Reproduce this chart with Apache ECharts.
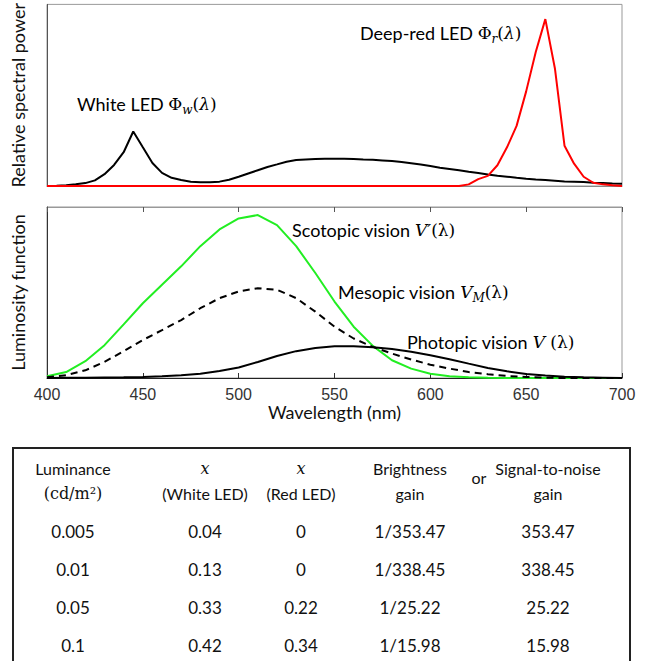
<!DOCTYPE html>
<html>
<head>
<meta charset="utf-8">
<script src="https://cdn.jsdelivr.net/npm/echarts@6/dist/echarts.min.js"></script>
<style>
html,body{margin:0;padding:0;background:#fff;}
#chart{width:646px;height:661px;}
</style>
</head>
<body>
<div id="chart"></div>
<script>
// ---- Data ----
const xTicks = [400, 450, 500, 550, 600, 650, 700];

const wlWhite = [400,405,410,415,420,425,430,435,440,445,450,455,460,465,470,475,480,485,490,495,500,505,510,515,520,525,530,535,540,545,550,555,560,565,570,575,580,585,590,595,600,605,610,615,620,625,630,635,640,645,650,655,660,665,670,675,680,685,690,695,700];
const whiteLed = [0,0.001,0.004,0.009,0.016,0.031,0.065,0.116,0.186,0.30,0.213,0.127,0.072,0.045,0.033,0.024,0.020,0.020,0.024,0.034,0.051,0.069,0.087,0.105,0.119,0.134,0.143,0.146,0.148,0.150,0.150,0.150,0.148,0.146,0.145,0.141,0.137,0.132,0.125,0.118,0.110,0.101,0.094,0.087,0.078,0.071,0.063,0.056,0.051,0.045,0.040,0.036,0.033,0.029,0.025,0.024,0.022,0.018,0.016,0.014,0.013];

const wlRed = [400,615,620,625,630,635,640,645,650,655,660,665,670,675,680,685,690,695,700];
const redLed = [0,0,0.009,0.038,0.056,0.114,0.213,0.331,0.521,0.738,0.919,0.647,0.222,0.123,0.051,0.018,0.009,0.004,0];

const wlVision = [400,410,420,430,440,450,460,470,480,490,500,510,520,530,540,550,560,570,580,590,600,610,620,630,640,650,660,670,680,690,700];
const scotopic = [0.010,0.035,0.098,0.192,0.314,0.437,0.545,0.653,0.771,0.869,0.933,0.953,0.894,0.771,0.614,0.447,0.300,0.188,0.104,0.055,0.025,0.010,0.004,0.001,0,0,0,0,0,0,0];
const mesopic = [0.004,0.016,0.045,0.094,0.157,0.222,0.280,0.339,0.408,0.467,0.506,0.525,0.516,0.467,0.388,0.300,0.231,0.182,0.143,0.108,0.078,0.055,0.035,0.022,0.012,0.006,0.002,0,0,0,0];
const photopic = [0,0.001,0.002,0.003,0.004,0.006,0.010,0.016,0.025,0.041,0.061,0.094,0.129,0.157,0.176,0.186,0.186,0.180,0.169,0.153,0.133,0.110,0.084,0.059,0.039,0.024,0.014,0.008,0.004,0.002,0];

// ---- Table data ----
const headerLine1 = ['Luminance', 'x', 'x', 'Brightness', 'Signal-to-noise'];
const headerLine2 = ['(cd/m²)', '(White LED)', '(Red LED)', 'gain', 'gain'];
const luminance = ['0.005', '0.01', '0.05', '0.1'];
const xWhiteLed = ['0.04', '0.13', '0.33', '0.42'];
const xRedLed = ['0', '0', '0.22', '0.34'];
const brightnessGain = ['1/353.47', '1/338.45', '1/25.22', '1/15.98'];
const snrGain = ['353.47', '338.45', '25.22', '15.98'];

function pairs(xs, ys){ return xs.map((x,i)=>[x, ys[i]]); }

const SANS = 'Lato';
const MATH = 'DejaVu Serif';

const chart = echarts.init(document.getElementById('chart'), null, {renderer:'svg'});

// ---- Rich label helpers ----
const richBase = {
  t: {fontFamily: SANS, fontSize: 18, color: '#111', lineHeight: 24, verticalAlign: 'middle'},
  m: {fontFamily: MATH, fontSize: 17, color: '#111', lineHeight: 24, verticalAlign: 'middle'},
  mi: {fontFamily: MATH, fontSize: 17, fontStyle: 'italic', color: '#111', lineHeight: 24, verticalAlign: 'middle'},
  s: {fontFamily: MATH, fontSize: 12, fontStyle: 'italic', color: '#111', lineHeight: 12, verticalAlign: 'bottom'}
};
function label(x, y, text){
  return {type:'text', x:x, y:y, style:{text:text, rich:richBase, verticalAlign:'middle', align:'left'}};
}

const colX = [73, 205, 301, 410, 548];
const rowY = [531, 569, 607, 645];
const tableGraphics = [];
tableGraphics.push({type:'rect', shape:{x:13, y:448, width:617, height:230}, style:{fill:'none', stroke:'#222', lineWidth:2}});
headerLine1.forEach((h,i)=>{
  const isMath = h === 'x';
  tableGraphics.push({type:'text', x:colX[i], y:468, style:{text:h, align:'center', verticalAlign:'middle',
    fontFamily: isMath ? MATH : SANS, fontStyle: isMath ? 'italic' : 'normal', fontSize: 16, fill:'#111'}});
});
headerLine2.forEach((h,i)=>{
  const isMath = i === 0;
  tableGraphics.push({type:'text', x:colX[i], y:493, style:{text:h, align:'center', verticalAlign:'middle',
    fontFamily: isMath ? MATH : SANS, fontSize: 16, fill:'#111'}});
});
tableGraphics.push({type:'text', x:479, y:477, style:{text:'or', align:'center', verticalAlign:'middle', fontFamily:SANS, fontSize:16, fill:'#111'}});
[luminance, xWhiteLed, xRedLed, brightnessGain, snrGain].forEach((col,ci)=>{
  col.forEach((v,ri)=>{
    tableGraphics.push({type:'text', x:colX[ci], y:rowY[ri], style:{text:v, align:'center', verticalAlign:'middle', fontFamily:SANS, fontSize:17, fill:'#111'}});
  });
});

const option = {
  animation: false,
  backgroundColor: '#fff',
  grid: [
    {left:47, top:2, width:575, height:184, show:true, borderColor:'#999', borderWidth:1},
    {left:47, top:207, width:575, height:171, show:true, borderColor:'#999', borderWidth:1}
  ],
  xAxis: [
    {type:'value', gridIndex:0, min:400, max:700, interval:50,
     axisLine:{show:true, lineStyle:{color:'#888', width:1}}, axisTick:{show:false}, axisLabel:{show:false}, splitLine:{show:false}},
    {type:'value', gridIndex:1, min:400, max:700, interval:50, position:'bottom',
     axisLine:{show:true, onZero:false, lineStyle:{color:'#222', width:1}},
     axisTick:{show:true, inside:true, length:5, lineStyle:{color:'#333'}},
     axisLabel:{show:true, fontFamily:'Liberation Sans', fontSize:16, color:'#333', margin:8, customValues: xTicks},
     splitLine:{show:false},
     name:'Wavelength (nm)', nameLocation:'middle', nameGap:24,
     nameTextStyle:{fontFamily:SANS, fontSize:18, color:'#111'}},
    {type:'value', gridIndex:1, min:400, max:700, interval:50, position:'top',
     axisLine:{show:true, onZero:false, lineStyle:{color:'#999', width:1}},
     axisTick:{show:true, inside:true, length:5, lineStyle:{color:'#555'}},
     axisLabel:{show:false}, splitLine:{show:false}}
  ],
  yAxis: [
    {type:'value', gridIndex:0, min:0, max:1,
     axisLine:{show:true, lineStyle:{color:'#555'}}, axisTick:{show:false}, axisLabel:{show:false}, splitLine:{show:false},
     name:'Relative spectral power', nameLocation:'middle', nameGap:20,
     nameTextStyle:{fontFamily:SANS, fontSize:18, color:'#111'}},
    {type:'value', gridIndex:1, min:0, max:1,
     axisLine:{show:true, lineStyle:{color:'#333'}}, axisTick:{show:false}, axisLabel:{show:false}, splitLine:{show:false},
     name:'Luminosity function', nameLocation:'middle', nameGap:20,
     nameTextStyle:{fontFamily:SANS, fontSize:18, color:'#111'}}
  ],
  series: [
    {name:'White LED', type:'line', xAxisIndex:0, yAxisIndex:0, data:pairs(wlWhite, whiteLed), showSymbol:false,
     lineStyle:{color:'#000', width:2}, z:3},
    {name:'Deep-red LED', type:'line', xAxisIndex:0, yAxisIndex:0, data:pairs(wlRed, redLed), showSymbol:false,
     lineStyle:{color:'#ff0000', width:2}, z:4},
    {name:'Scotopic', type:'line', xAxisIndex:1, yAxisIndex:1, data:pairs(wlVision, scotopic), showSymbol:false,
     lineStyle:{color:'#22ee22', width:2}, z:3},
    {name:'Photopic', type:'line', xAxisIndex:1, yAxisIndex:1, data:pairs(wlVision, photopic), showSymbol:false,
     lineStyle:{color:'#000', width:2}, z:4},
    {name:'Mesopic', type:'line', xAxisIndex:1, yAxisIndex:1, data:pairs(wlVision, mesopic), showSymbol:false,
     lineStyle:{color:'#000', width:2, type:[7,5]}, z:5}
  ],
  graphic: [
    label(77, 104, '{t|White LED }{m|Φ}{s|w}{m|(}{mi|λ}{m|)}'),
    label(360, 33, '{t|Deep-red LED }{m|Φ}{s|r}{m|(}{mi|λ}{m|)}'),
    label(292, 230, '{t|Scotopic vision }{mi|V′}{m|(λ)}'),
    label(338, 292, '{t|Mesopic vision }{mi|V}{s|M}{m|(λ)}'),
    label(407, 342, '{t|Photopic vision }{mi|V}{m| (λ)}')
  ].concat(tableGraphics)
};
chart.setOption(option);
</script>
</body>
</html>
